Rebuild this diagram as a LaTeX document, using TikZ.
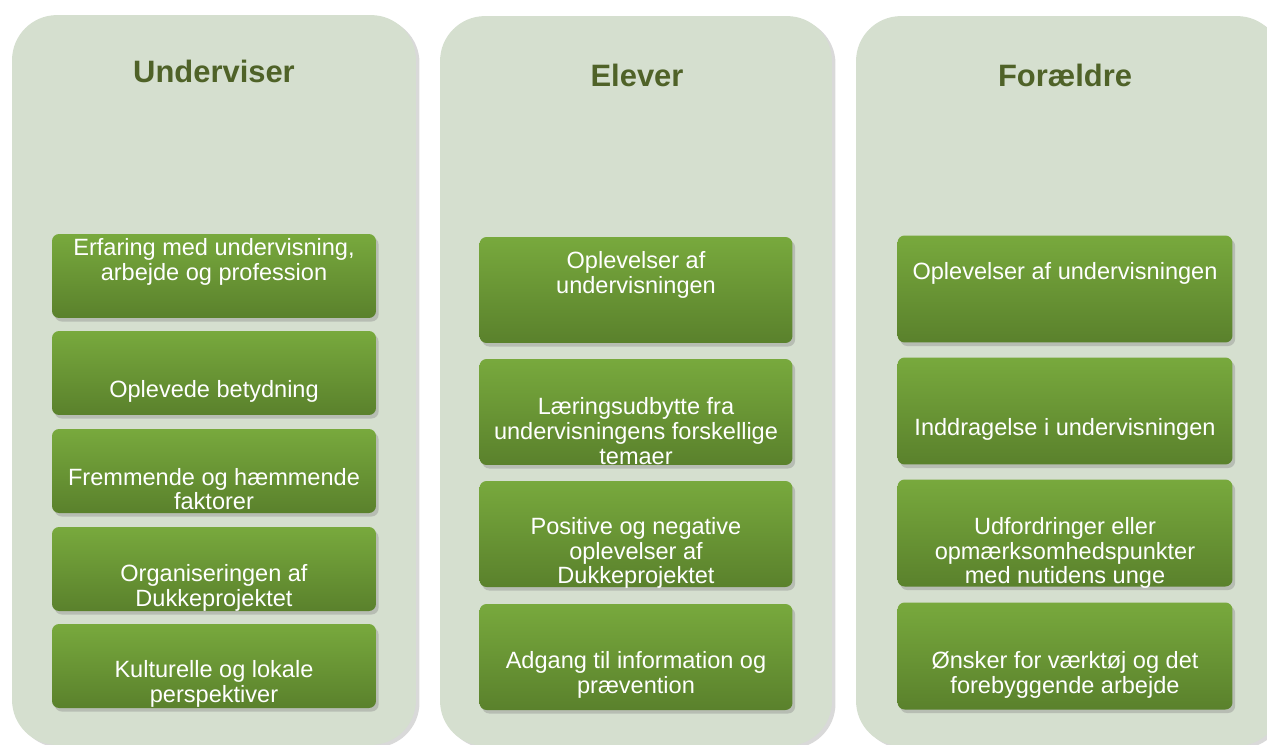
\documentclass[tikz,border=0pt]{standalone}
\usepackage{fontspec}
\setmainfont{Liberation Sans}
\usetikzlibrary{shadows}
\definecolor{panelbg}{HTML}{D5DFCF}
\definecolor{headcol}{HTML}{4F6228}
\definecolor{boxtop}{HTML}{78A93D}
\definecolor{boxmid}{HTML}{6F9E37}
\definecolor{boxbot}{HTML}{5A812C}

\begin{document}
\begin{tikzpicture}[x=0.02cm,y=-0.02cm]
\tikzstyle{panel}=[fill=panelbg,rounded corners=0.9cm,minimum height=14.6cm,drop shadow={opacity=0.3,shadow xshift=2pt,shadow yshift=-1.5pt}];
\tikzstyle{head}=[text=headcol,font=\fontsize{17.6}{20}\selectfont\bfseries];
\tikzstyle{item}=[rounded corners=4pt,top color=boxtop,middle color=boxmid,bottom color=boxbot,drop shadow={opacity=0.35,shadow xshift=1.5pt,shadow yshift=-2pt}];
\tikzstyle{txt}=[text=white,align=center,font=\fontsize{13.4}{14}\selectfont];
\useasboundingbox (0,0) rectangle (1267,744);
% three columns
\node [panel,minimum width=8.08cm] (p1) at (214,380) {};
\node [panel,minimum width=7.84cm] (p2) at (636,381) {};
\node [panel,minimum width=8.52cm] (p3) at (1069,381) {};
\node [head] (h1) at (214,71) {Underviser};
\node [head] (h2) at (637,75) {Elever};
\node [head] (h3) at (1065,75) {Forældre};
% Underviser
\tikzstyle{ubox}=[item,minimum width=6.48cm,minimum height=1.68cm];
\node [ubox] (u1) at (214,276) {};
\node [ubox] (u2) at (214,373) {};
\node [ubox] (u3) at (214,471) {};
\node [ubox] (u4) at (214,569) {};
\node [ubox] (u5) at (214,666) {};
\node [txt] (u1t) at (214,262) {Erfaring med undervisning,\\arbejde og profession};
\node [txt] (u2t) at (214,391) {Oplevede betydning};
\node [txt] (u3t) at (214,489) {Fremmende og hæmmende\\faktorer};
\node [txt] (u4t) at (214,588) {Organiseringen af\\Dukkeprojektet};
\node [txt] (u5t) at (214,684) {Kulturelle og lokale\\perspektiver};
% Elever
\tikzstyle{ebox}=[item,minimum width=6.26cm,minimum height=2.12cm];
\node [ebox] (e1) at (636,290) {};
\node [ebox] (e2) at (636,412) {};
\node [ebox] (e3) at (636,534) {};
\node [ebox] (e4) at (636,657) {};
\node [txt] (e1t) at (636,275) {Oplevelser af\\undervisningen};
\node [txt] (e2t) at (636,431) {Læringsudbytte fra\\undervisningens forskellige\\temaer};
\node [txt] (e3t) at (636,553) {Positive og negative\\oplevelser af\\Dukkeprojektet};
\node [txt] (e4t) at (636,675) {Adgang til information og\\prævention};
% Foraeldre
\tikzstyle{fbox}=[item,minimum width=6.7cm,minimum height=2.14cm];
\node [fbox] (f1) at (1065,289) {};
\node [fbox] (f2) at (1065,411) {};
\node [fbox] (f3) at (1065,533) {};
\node [fbox] (f4) at (1065,656) {};
\node [txt] (f1t) at (1065,273) {Oplevelser af undervisningen};
\node [txt] (f2t) at (1065,429) {Inddragelse i undervisningen};
\node [txt] (f3t) at (1065,553) {Udfordringer eller\\opmærksomhedspunkter\\med nutidens unge};
\node [txt] (f4t) at (1065,675) {Ønsker for værktøj og det\\forebyggende arbejde};
\end{tikzpicture}
\end{document}
